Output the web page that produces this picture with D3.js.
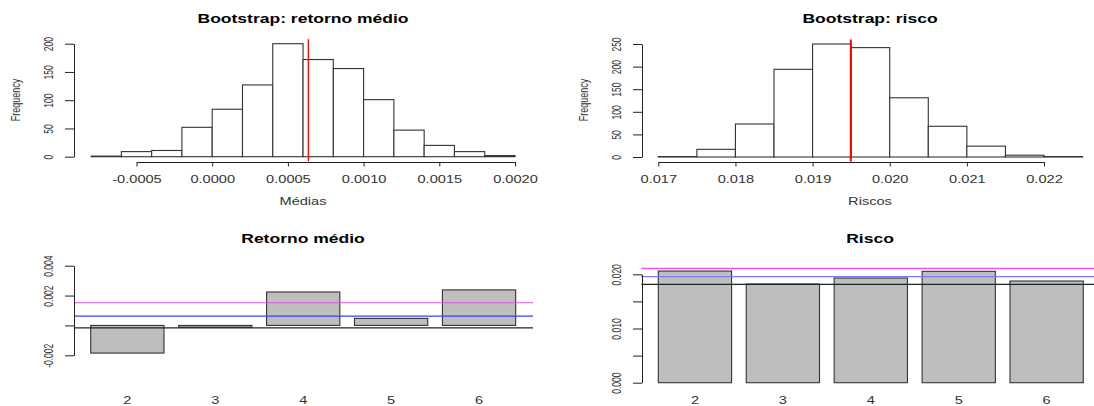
<!DOCTYPE html>
<html lang="pt">
  <head>
    <meta charset="UTF-8" />
    <title>Bootstrap</title>
    <script src="https://cdn.jsdelivr.net/npm/d3@7"></script>
    <style>
      body { margin: 0; background: #fff; }
      svg { display: block; font-family: "Liberation Sans", Arial, sans-serif; }
    </style>
  </head>
  <body>
    <svg width="1094" height="406"></svg>
    <script>
      // dados
      var mediasBreaks = [-0.0008, -0.0006, -0.0004, -0.0002, 0, 0.0002, 0.0004, 0.0006, 0.0008, 0.001, 0.0012, 0.0014, 0.0016, 0.0018, 0.002];
      var mediasCounts = [1, 9, 11, 52, 84, 127, 200, 172, 156, 101, 47, 20, 9, 2];
      var mediasMean = 0.000635;
      var mediasTicks = [-0.0005, 0, 0.0005, 0.001, 0.0015, 0.002];
      var mediasFreqTicks = [0, 50, 100, 150, 200];

      var riscosBreaks = [0.017, 0.0175, 0.018, 0.0185, 0.019, 0.0195, 0.02, 0.0205, 0.021, 0.0215, 0.022, 0.0225];
      var riscosCounts = [1, 17, 73, 194, 250, 242, 131, 68, 24, 4, 1];
      var riscosMean = 0.019495;
      var riscosTicks = [0.017, 0.018, 0.019, 0.02, 0.021, 0.022];
      var riscosFreqTicks = [0, 50, 100, 150, 200, 250];

      var ativos = ["2", "3", "4", "5", "6"];
      var retornoMedio = [-0.00185, -0.00012, 0.00224, 0.00047, 0.00238];
      var retornoLinhas = [0.00152, 0.00063, -0.00017]; // magenta, azul, preta
      var retornoTicks = [-0.002, 0, 0.002, 0.004];
      var retornoLabels = ["-0.002", "", "0.002", "0.004"];

      var risco = [0.0206, 0.01821, 0.01932, 0.02055, 0.01876];
      var riscoLinhas = [0.0211, 0.01956, 0.01815];
      var riscoTicks = [0, 0.005, 0.01, 0.015, 0.02];
      var riscoLabels = ["0.000", "", "0.010", "", "0.020"];

      var SX = 1.46; // texto esticado na horizontal
      var svg = d3.select("svg");
      svg.append("rect").attr("width", 1094).attr("height", 406).attr("fill", "#fff");

      function fmt(p) {
        return d => d3.format(p)(d).replace("\u2212", "-");
      }

      function texto(x, y, txt, size, bold) {
        svg.append("text")
          .attr("transform", `translate(${x},${y}) scale(${SX},1)`)
          .attr("text-anchor", "middle")
          .attr("font-size", size)
          .attr("font-weight", bold ? "bold" : "normal")
          .attr("fill", bold ? "#000" : "#333")
          .text(txt);
      }

      function textoV(x, y, txt, size) {
        svg.append("text")
          .attr("transform", `translate(${x},${y}) scale(${SX},1) rotate(-90)`)
          .attr("text-anchor", "middle")
          .attr("dy", "0.35em")
          .attr("font-size", size)
          .attr("fill", "#333")
          .text(txt);
      }

      function eixoY(y, ticks, labels, x0) {
        var g = svg.append("g")
          .attr("transform", `translate(${x0},0)`)
          .call(d3.axisLeft(y).tickValues(ticks).tickSize(9).tickSizeOuter(0)
            .tickFormat(d => labels[ticks.indexOf(d)]));
        g.select(".domain").attr("stroke", "#222");
        g.selectAll(".tick line").attr("stroke", "#222");
        g.selectAll(".tick text")
          .attr("x", null)
          .attr("dy", "0.35em")
          .attr("transform", `translate(-25,0) scale(${SX},1) rotate(-90)`)
          .attr("text-anchor", "middle")
          .attr("font-size", 8.5)
          .attr("fill", "#333");
      }

      function eixoX(x, ticks, f, y0) {
        var g = svg.append("g")
          .attr("transform", `translate(0,${y0})`)
          .call(d3.axisBottom(x).tickValues(ticks).tickSize(4.5).tickSizeOuter(0).tickFormat(f));
        g.select(".domain").attr("stroke", "#222");
        g.selectAll(".tick line").attr("stroke", "#222");
        g.selectAll(".tick text")
          .attr("y", 13.6)
          .attr("transform", `scale(${SX},1)`)
          .attr("font-size", 10)
          .attr("fill", "#333");
      }

      function histograma(o) {
        var bins = o.counts.map((c, i) => ({ x0: o.breaks[i], x1: o.breaks[i + 1], n: c }));
        svg.append("g").selectAll("rect")
          .data(bins)
          .enter()
          .append("rect")
          .attr("x", d => o.x(d.x0))
          .attr("y", d => o.y(d.n))
          .attr("width", d => o.x(d.x1) - o.x(d.x0))
          .attr("height", d => o.y(0) - o.y(d.n))
          .attr("fill", "#fff")
          .attr("stroke", "#333")
          .attr("stroke-width", 1.1);
        var top = d3.max(o.counts);
        svg.append("line")
          .attr("x1", o.x(o.mean)).attr("x2", o.x(o.mean))
          .attr("y1", o.y(top * 1.04)).attr("y2", o.y(-top * 0.04))
          .attr("stroke", "red")
          .attr("stroke-width", o.lw);
        eixoY(o.y, o.freqTicks, o.freqTicks.map(String), o.ax);
        eixoX(o.x, o.ticks, o.f, 162);
        texto(o.cx, 23, o.title, 12, true);
        texto(o.cx, 205, o.xlab, 10, false);
        textoV(o.ax - 59, 100, "Frequency", 9);
      }

      function barras(o) {
        var band = d3.scaleBand().domain(ativos).range(o.band).paddingInner(1 / 6).paddingOuter(1 / 12);
        svg.append("g").selectAll("rect")
          .data(o.values)
          .enter()
          .append("rect")
          .attr("x", (d, i) => band(ativos[i]))
          .attr("y", d => o.y(Math.max(0, d)))
          .attr("width", band.bandwidth())
          .attr("height", d => Math.abs(o.y(d) - o.y(0)))
          .attr("fill", "#bebebe")
          .attr("stroke", "#333")
          .attr("stroke-width", 1.1);
        svg.append("g").selectAll("line")
          .data(o.lines)
          .enter()
          .append("line")
          .attr("x1", o.hx[0]).attr("x2", o.hx[1])
          .attr("y1", d => o.y(d)).attr("y2", d => o.y(d))
          .attr("stroke", (d, i) => o.colors[i])
          .attr("stroke-width", 1.2);
        eixoY(o.y, o.ticks, o.labels, o.ax);
        var g = svg.append("g")
          .attr("transform", "translate(0,397)")
          .call(d3.axisBottom(band).tickSize(0));
        g.select(".domain").remove();
        g.selectAll(".tick text")
          .attr("y", 0)
          .attr("transform", `scale(${SX},1)`)
          .attr("font-size", 10)
          .attr("fill", "#333");
        texto(o.cx, 243, o.title, 12, true);
      }

      histograma({
        breaks: mediasBreaks, counts: mediasCounts, mean: mediasMean,
        ticks: mediasTicks, freqTicks: mediasFreqTicks, f: fmt(".4f"),
        x: d3.scaleLinear().domain([-0.0005, 0.002]).range([136.5, 515]),
        y: d3.scaleLinear().domain([0, 200]).range([156.7, 43.7]),
        ax: 74, cx: 303, lw: 1.3,
        title: "Bootstrap: retorno médio", xlab: "Médias"
      });

      histograma({
        breaks: riscosBreaks, counts: riscosCounts, mean: riscosMean,
        ticks: riscosTicks, freqTicks: riscosFreqTicks, f: fmt(".3f"),
        x: d3.scaleLinear().domain([0.017, 0.022]).range([658.3, 1044]),
        y: d3.scaleLinear().domain([0, 250]).range([157, 44]),
        ax: 642, cx: 870, lw: 2,
        title: "Bootstrap: risco", xlab: "Riscos"
      });

      barras({
        values: retornoMedio, lines: retornoLinhas,
        colors: ["#dd55dd", "#3b3bff", "#222"],
        ticks: retornoTicks, labels: retornoLabels,
        y: d3.scaleLinear().domain([-0.002, 0.004]).range([355.3, 265.7]),
        band: [83.4, 523], hx: [74, 533], ax: 74, cx: 303,
        title: "Retorno médio"
      });

      barras({
        values: risco, lines: riscoLinhas,
        colors: ["#ff44ff", "#7b7bf5", "#222"],
        ticks: riscoTicks, labels: riscoLabels,
        y: d3.scaleLinear().domain([0, 0.02]).range([382.7, 274.3]),
        band: [651, 1090.6], hx: [641.3, 1100], ax: 642, cx: 870,
        title: "Risco"
      });
    </script>
  </body>
</html>
